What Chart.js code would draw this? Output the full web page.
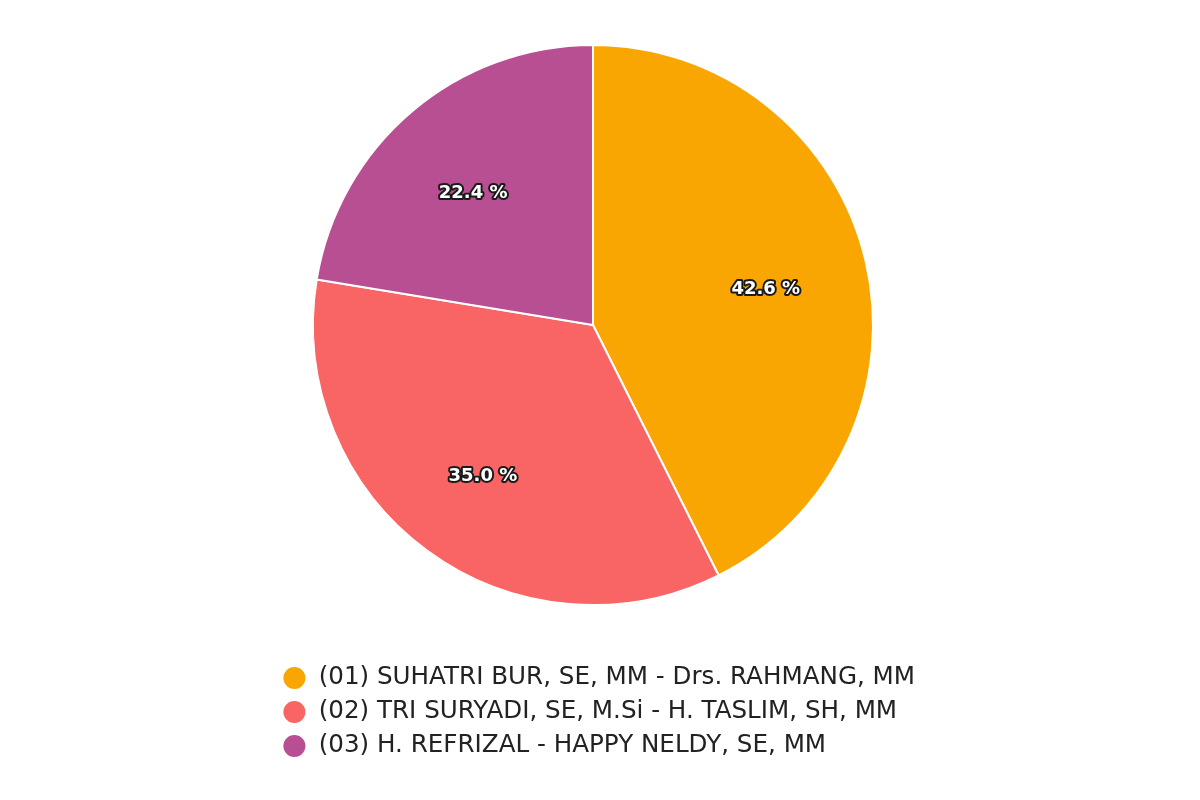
<!DOCTYPE html>
<html><head><meta charset="utf-8">
<script src="https://cdn.jsdelivr.net/npm/chart.js@4/dist/chart.umd.min.js"></script>
<style>html,body{margin:0;padding:0;background:#fff}#wrap{width:1200px;height:800px}</style>
</head><body><div id="wrap"><canvas id="c" width="1200" height="800"></canvas></div>
<script>
const categories = [
  "(01) SUHATRI BUR, SE, MM - Drs. RAHMANG, MM",
  "(02) TRI SURYADI, SE, M.Si - H. TASLIM, SH, MM",
  "(03) H. REFRIZAL - HAPPY NELDY, SE, MM"
];
const values = [42.6, 35.0, 22.4];
const colors = ["#f9a602", "#f96565", "#b84f92"];

const labelPlugin = {
  id: 'sliceLabels',
  afterDatasetsDraw(chart) {
    const ctx = chart.ctx;
    const meta = chart.getDatasetMeta(0);
    ctx.save();
    ctx.font = 'bold 18px "DejaVu Sans"';
    ctx.textAlign = 'center';
    ctx.textBaseline = 'middle';
    ctx.lineJoin = 'round';
    meta.data.forEach((arc, i) => {
      const p = arc.getProps(['x','y','startAngle','endAngle','outerRadius'], true);
      const a = (p.startAngle + p.endAngle) / 2;
      const r = p.outerRadius * 0.645;
      const x = p.x + Math.cos(a) * r - 3, y = p.y + Math.sin(a) * r + 6;
      const t = values[i].toFixed(1) + ' %';
      ctx.lineWidth = 4;
      ctx.strokeStyle = '#1a1a1a';
      ctx.strokeText(t, x, y);
      ctx.fillStyle = '#ffffff';
      ctx.fillText(t, x, y);
    });
    ctx.restore();
  }
};

new Chart(document.getElementById('c'), {
  type: 'pie',
  data: {
    labels: categories,
    datasets: [{
      data: values,
      backgroundColor: colors,
      borderColor: '#ffffff',
      borderWidth: 2,
      radius: 280
    }]
  },
  options: {
    responsive: false,
    animation: false,
    layout: { padding: { top: 45, left: 273, right: 270, bottom: 31.7 } },
    plugins: {
      tooltip: { enabled: false },
      subtitle: {
        display: true, position: 'right', text: ' ',
        font: { size: 10 }, padding: { top: 5, bottom: 0 }
      },
      legend: {
        position: 'bottom',
        align: 'start',
        title: { display: true, text: ' ', font: { size: 10 }, padding: { top: 39.3, bottom: 0 } },
        labels: {
          usePointStyle: true,
          pointStyle: 'circle',
          boxWidth: 24,
          boxHeight: 17,
          padding: 9.4,
          color: '#222222',
          font: { family: '"DejaVu Sans"', size: 24.6 }
        }
      }
    }
  },
  plugins: [labelPlugin]
});
</script></body></html>
